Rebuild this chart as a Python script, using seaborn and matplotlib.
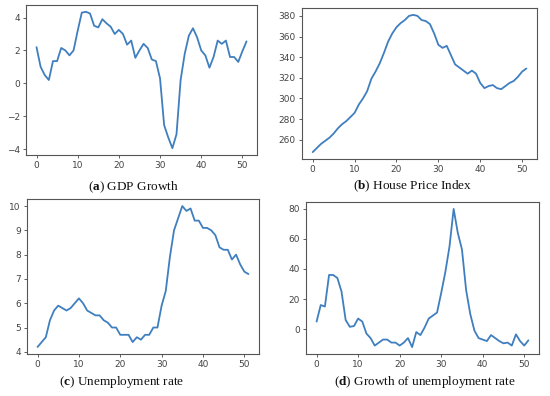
import numpy as np
import pandas as pd
import matplotlib
matplotlib.use("Agg")
import matplotlib.pyplot as plt
import seaborn as sns

quarters = list(range(52))

gdp_growth = [2.2, 1.0, 0.5, 0.2, 1.35, 1.35, 2.15, 2.0, 1.7, 2.0,
              3.2, 4.3, 4.35, 4.25, 3.5, 3.4, 3.9, 3.65, 3.45, 3.0,
              3.25, 3.0, 2.35, 2.6, 1.55, 2.0, 2.4, 2.15, 1.45, 1.35,
              0.3, -2.55, -3.3, -3.95, -3.1, 0.2, 1.8, 2.9, 3.35, 2.8,
              2.0, 1.7, 0.95, 1.6, 2.6, 2.4, 2.6, 1.6, 1.6, 1.3,
              1.95, 2.55]

house_price = [248, 252, 256, 259, 262, 266, 271, 275, 278, 282,
               286, 294, 300, 307, 319, 326, 334, 344, 355, 363,
               369, 373, 376, 380, 381, 380, 376, 375, 372, 363,
               352, 349, 351, 342, 333, 330, 327, 324, 327, 324,
               315, 310, 312, 313, 310, 309, 312, 315, 317, 321,
               326, 329]

unemployment = [4.2, 4.4, 4.6, 5.3, 5.7, 5.9, 5.8, 5.7, 5.8, 6.0,
                6.2, 6.0, 5.7, 5.6, 5.5, 5.5, 5.3, 5.2, 5.0, 5.0,
                4.7, 4.7, 4.7, 4.4, 4.6, 4.5, 4.7, 4.7, 5.0, 5.0,
                5.9, 6.5, 7.9, 9.0, 9.5, 10.0, 9.8, 9.9, 9.4, 9.4,
                9.1, 9.1, 9.0, 8.8, 8.3, 8.2, 8.2, 7.8, 8.0, 7.6,
                7.3, 7.2]

unemp_growth = [5, 16, 15, 36, 36, 34, 25, 6, 1.5, 2,
                7, 5, -3, -6, -11, -9, -7, -7, -9, -9,
                -11, -9, -6, -12, -2, -4, 1, 7, 9, 11,
                24, 38, 55, 80, 64, 53, 26, 10, -1, -6,
                -7, -8, -4, -6, -8, -9.5, -9, -11, -3.5, -8,
                -11, -7.5]

letters = ["a", "b", "c", "d"]
captions = ["GDP Growth", "House Price Index", "Unemployment rate", "Growth of unemployment rate"]
yticks = [[-4, -2, 0, 2, 4], [260, 280, 300, 320, 340, 360, 380],
          [4, 5, 6, 7, 8, 9, 10], [0, 20, 40, 60, 80]]

sns.set_style("white")
plt.rcParams["mathtext.fontset"] = "custom"
plt.rcParams["mathtext.bf"] = "Liberation Serif:bold"
plt.rcParams["mathtext.rm"] = "Liberation Serif"

W, H = 550, 396
fig = plt.figure(figsize=(W / 100, H / 100), dpi=100)

# axes boxes in pixel coords: left, top, right, bottom
boxes = [(26, 5, 257, 155), (302, 8, 537, 159), (27, 199, 259, 354), (306, 202, 539, 354)]
cap_pos = [(133, 187), (413, 186), (122, 382), (425, 382)]

df = pd.DataFrame({"t": quarters, "a": gdp_growth, "b": house_price,
                   "c": unemployment, "d": unemp_growth})

for i, key in enumerate(letters):
    l, t, r, b = boxes[i]
    ax = fig.add_axes([l / W, 1 - b / H, (r - l) / W, (b - t) / H])
    sns.lineplot(data=df, x="t", y=key, ax=ax, color="#3f7fbf", linewidth=1.3)
    ax.set_xlim(-2.55, 53.55)
    ax.set_xticks([0, 10, 20, 30, 40, 50])
    ax.set_yticks(yticks[i])
    ax.set_xlabel("")
    ax.set_ylabel("")
    ax.tick_params(labelsize=6.5, colors="#444444", length=2.5, width=0.6, direction="out",
                   bottom=True, left=True, pad=2)
    for s in ax.spines.values():
        s.set_color("#555555")
        s.set_linewidth(0.8)
    cx, cy = cap_pos[i]
    fig.text(cx / W, 1 - cy / H, r"($\mathbf{" + key + r"}$) " + captions[i],
             ha="center", va="center", fontsize=9.5, family="Liberation Serif", color="#111111")

fig.savefig("out.png", dpi=100)
